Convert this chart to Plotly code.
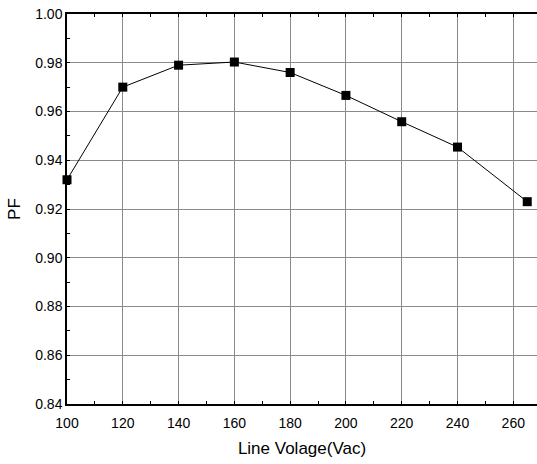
import plotly.graph_objects as go

voltage = [100, 120, 140, 160, 180, 200, 220, 240, 265]
pf = [0.932, 0.970, 0.979, 0.9803, 0.976, 0.9666, 0.9558, 0.9454, 0.923]
x_ticks = [100, 120, 140, 160, 180, 200, 220, 240, 260]
y_ticks = [0.84, 0.86, 0.88, 0.90, 0.92, 0.94, 0.96, 0.98, 1.00]

fig = go.Figure()
fig.add_trace(go.Scatter(
    x=voltage, y=pf, mode="lines+markers",
    line=dict(color="black", width=1),
    marker=dict(symbol="square", size=9, color="black"),
    cliponaxis=False, showlegend=False,
))

font = dict(family="Liberation Sans, Arial, sans-serif", size=14, color="black")
fig.update_layout(
    width=537, height=464,
    margin=dict(l=67, r=0, t=14, b=60, autoexpand=False),
    paper_bgcolor="white", plot_bgcolor="white",
    font=font,
)
fig.update_xaxes(
    range=[100, 268.5], tickvals=x_ticks, ticktext=[str(v) for v in x_ticks],
    showgrid=True, gridcolor="#8a8a8a", gridwidth=1,
    showline=True, linecolor="black", linewidth=1.5, mirror="ticks",
    ticks="inside", ticklen=0, zeroline=False, automargin=False,
    minor=dict(dtick=10, tick0=100, ticks="inside", ticklen=3, tickcolor="black", showgrid=False),
    tickfont=dict(size=14), ticklabelstandoff=5,
    title=dict(text="Line Volage(Vac)", font=dict(size=17), standoff=13),
)
fig.update_yaxes(
    range=[0.84, 1.00], tickvals=y_ticks, ticktext=[f"{v:.2f}" for v in y_ticks],
    showgrid=True, gridcolor="#8a8a8a", gridwidth=1,
    showline=True, linecolor="black", linewidth=1.5, mirror=False,
    ticks="inside", ticklen=0, zeroline=False, automargin=False,
    minor=dict(dtick=0.01, tick0=0.84, ticks="inside", ticklen=3, tickcolor="black", showgrid=False),
    tickfont=dict(size=14),
    title=dict(text="PF", font=dict(size=17), standoff=10),
)
fig.write_html(
    "out.html",
    config={"displayModeBar": False},
    post_script="document.body.style.margin='0';document.body.style.overflow='hidden';",
)
